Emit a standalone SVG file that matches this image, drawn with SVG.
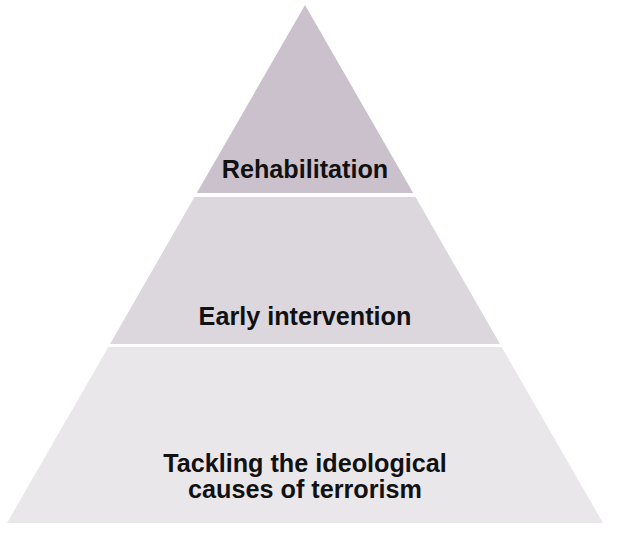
<svg xmlns="http://www.w3.org/2000/svg" width="637" height="533" viewBox="0 0 637 533">
<style>
.lbl{font-family:"Liberation Sans",Arial,Helvetica,sans-serif;font-weight:bold;font-size:25.2px;fill:#111;text-anchor:middle}
</style>
<rect width="637" height="533" fill="#fff"/>
<g id="tier-rehabilitation">
<polygon points="305,5 413.2,193 196.8,193" fill="#cbc1cc"/>
<text class="lbl" x="305" y="178">Rehabilitation</text>
</g>
<g id="tier-early-intervention">
<polygon points="194.5,197 415.5,197 500,344 110,344" fill="#dcd6dd"/>
<text class="lbl" x="305" y="325">Early intervention</text>
</g>
<g id="tier-tackling">
<polygon points="108.3,347 501.7,347 603,523 7,523" fill="#eae7eb"/>
<text class="lbl" x="305" y="472">Tackling the ideological</text>
<text class="lbl" x="305" y="498">causes of terrorism</text>
</g>
<g id="connectors"></g>
</svg>
